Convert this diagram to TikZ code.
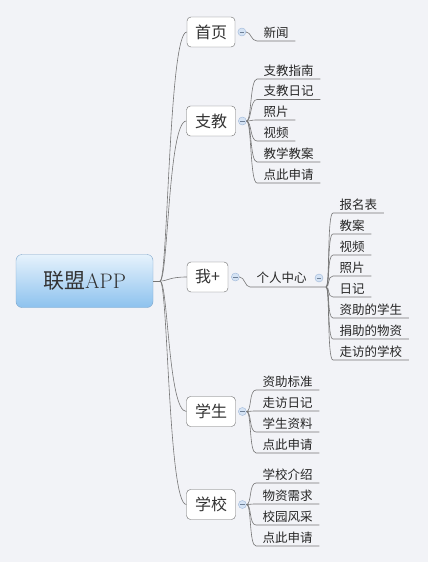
\documentclass[tikz,border=0pt]{standalone}
\usepackage{fontspec}
\newfontfamily\cjk{Noto Sans CJK SC}
\usetikzlibrary{positioning}
\definecolor{bgcol}{HTML}{F2F3F7}
\definecolor{linecol}{HTML}{767676}
\definecolor{boxcol}{HTML}{6A6A6A}
\definecolor{foldfill}{HTML}{D5E3F4}
\definecolor{foldline}{HTML}{9DB6D8}
\definecolor{roottop}{HTML}{E6F2FC}
\definecolor{rootbot}{HTML}{8DC2EE}
\definecolor{rootline}{HTML}{7EA6CB}

\begin{document}
\begin{tikzpicture}[x=1pt,y=-1pt,
    line/.style={draw=linecol, line width=0.6pt},
    rootbox/.style={draw=rootline, rounded corners=6pt, top color=roottop, bottom color=rootbot,
        minimum width=137pt, minimum height=53pt, font=\fontsize{21}{21}\selectfont, text=black!80},
    topic/.style={draw=boxcol, fill=white, rounded corners=4pt, minimum width=49pt, minimum height=30pt,
        inner sep=2pt, font=\cjk\fontsize{16}{16}\selectfont, text=black!80},
    leaf/.style={anchor=south west, inner xsep=6.5pt, inner ysep=2.5pt, font=\cjk\fontsize{12.5}{13}\selectfont, text=black!85},
    fold/.style={circle, draw=foldline, fill=foldfill, minimum size=8pt, inner sep=0pt,
        path picture={\draw[foldline!70!black, line width=0.4pt]
            ([xshift=-2.2pt]path picture bounding box.center) -- ([xshift=2.2pt]path picture bounding box.center);}}
]
\useasboundingbox[fill=bgcol] (0,0) rectangle (428,562);

% centre topic
\node[rootbox] (root) at (84.5,281) {{\cjk 联盟}APP};
\coordinate (hub) at (160,281);

% main topics
\node[topic, minimum width=48pt] (sy) at (211,32) {首页};
\node[topic] (zj) at (211,121) {支教};
\node[topic, minimum width=41pt] (wo) at (207.5,277) {我+};
\node[topic] (xs) at (211,411.5) {学生};
\node[topic] (xx) at (211,504.5) {学校};

\draw[line] (root.east) -- (hub);
\foreach \c in {sy,zj,wo,xs,xx}
    \draw[line] (hub) .. controls +(8,0) and +(-18,0) .. (\c.west);

% fold markers
\foreach \c in {sy,zj,xs,xx}
    \node[fold, right=2.5pt of \c] (\c f) {};
\node[fold, right=3pt of wo] (wof) {};

% 首页
\node[leaf] (sy1) at (257,41) {新闻};
\draw[line] (syf.east) .. controls +(5,0) and +(-6,0) .. (sy1.south west) -- (sy1.south east);

% 支教
\foreach \t/\y [count=\i] in {支教指南/79, 支教日记/99.5, 照片/120, 视频/141, 教学教案/162, 点此申请/183} {
    \node[leaf] (zj\i) at (257,\y) {\t};
    \draw[line] (zjf.east) .. controls +(5,0) and +(-7,0) .. (zj\i.south west) -- (zj\i.south east);
}

% 我+ / 个人中心
\node[font=\cjk\fontsize{12.5}{13}\selectfont, text=black!85] (grzx) at (281.5,278) {个人中心};
\coordinate (grzxs) at (250,287);
\coordinate (grzxe) at (326,287);
\node[fold] (grzxf) at (319,278) {};
\draw[line] (wof.east) .. controls +(5,0) and +(-5,0) .. (grzxs) -- (grzxe);
\foreach \t/\y [count=\i] in {报名表/213, 教案/234, 视频/255, 照片/276, 日记/297, 资助的学生/318, 捐助的物资/339, 走访的学校/360} {
    \node[leaf] (gr\i) at (333,\y) {\t};
    \draw[line] (grzxe) .. controls +(4,0) and +(-6,0) .. (gr\i.south west) -- (gr\i.south east);
}

% 学生
\foreach \t/\y [count=\i] in {资助标准/390, 走访日记/411, 学生资料/432, 点此申请/453} {
    \node[leaf] (xs\i) at (256,\y) {\t};
    \draw[line] (xsf.east) .. controls +(5,0) and +(-7,0) .. (xs\i.south west) -- (xs\i.south east);
}

% 学校
\foreach \t/\y [count=\i] in {学校介绍/483, 物资需求/504, 校园风采/525, 点此申请/546} {
    \node[leaf] (xx\i) at (256,\y) {\t};
    \draw[line] (xxf.east) .. controls +(5,0) and +(-7,0) .. (xx\i.south west) -- (xx\i.south east);
}

\end{tikzpicture}
\end{document}
